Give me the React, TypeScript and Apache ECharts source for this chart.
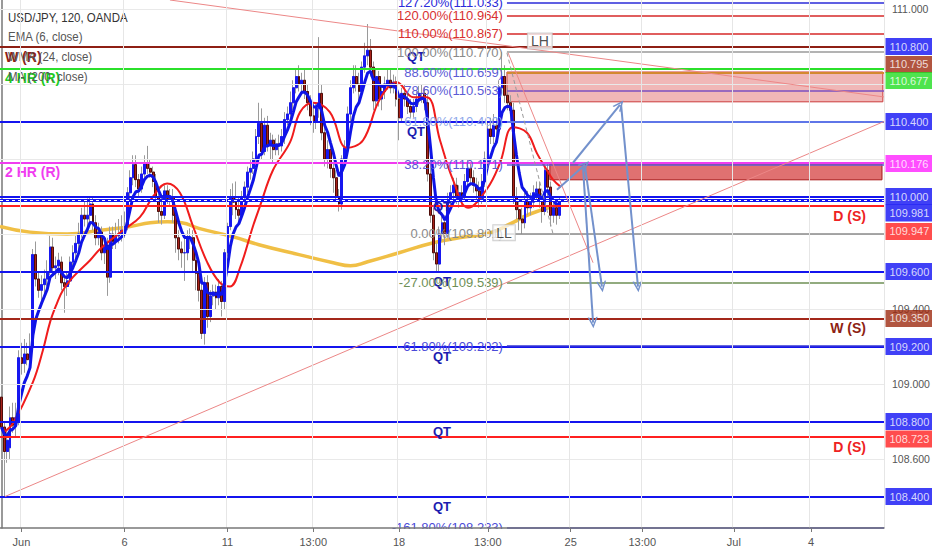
import React, { useEffect, useRef } from 'react';
import * as echarts from 'echarts';

// ---------------- data ----------------
// 2-hour candles: [open, close, low, high]
const candles: [number, number, number, number][] = [
  [108.93,108.77,108.72,108.98],[108.77,108.64,108.40,108.80],[108.64,108.70,108.58,108.76],[108.66,108.82,108.60,108.88],
  [108.82,108.78,108.74,108.90],[108.78,108.82,108.72,108.90],[108.80,109.14,108.78,109.18],[109.14,109.11,109.05,109.22],
  [109.11,109.16,109.06,109.24],[109.16,109.13,109.10,109.22],[109.14,109.20,109.10,109.27],[109.20,109.69,109.18,109.72],
  [109.69,109.56,109.52,109.76],[109.56,109.50,109.46,109.60],[109.50,109.53,109.44,109.58],[109.53,109.56,109.48,109.61],
  [109.56,109.60,109.52,109.66],[109.60,109.73,109.58,109.79],[109.73,109.62,109.58,109.78],[109.62,109.63,109.56,109.68],
  [109.63,109.66,109.58,109.70],[109.65,109.54,109.50,109.68],[109.54,109.52,109.38,109.58],[109.52,109.55,109.47,109.60],
  [109.55,109.65,109.53,109.68],[109.65,109.70,109.62,109.74],[109.70,109.75,109.66,109.79],[109.75,109.80,109.72,109.86],
  [109.80,109.90,109.78,109.94],[109.90,109.88,109.84,109.98],[109.88,109.90,109.84,109.99],[109.90,109.96,109.86,110.00],
  [109.96,109.85,109.82,110.00],[109.86,109.78,109.74,109.90],[109.78,109.81,109.74,109.86],[109.81,109.70,109.66,109.84],
  [109.70,109.74,109.64,109.79],[109.74,109.57,109.47,109.78],[109.57,109.80,109.54,109.84],[109.80,109.76,109.72,109.84],
  [109.76,109.79,109.72,109.86],[109.79,109.80,109.75,109.88],[109.80,109.82,109.76,109.90],[109.82,109.84,109.78,109.92],
  [109.84,110.02,109.82,110.05],[110.02,110.10,109.98,110.14],[110.10,110.17,110.06,110.22],[110.17,110.09,110.05,110.22],
  [110.09,110.04,110.00,110.12],[110.04,110.12,110.02,110.16],[110.12,110.18,110.10,110.22],[110.18,110.15,110.12,110.27],
  [110.15,110.13,110.10,110.20],[110.13,110.08,110.05,110.16],[110.08,110.00,109.98,110.12],[110.00,109.92,109.86,110.04],
  [109.92,109.90,109.85,109.98],[109.90,110.03,109.88,110.06],[110.03,109.99,109.96,110.06],[109.99,110.00,109.95,110.04],
  [110.00,109.90,109.86,110.04],[109.90,109.78,109.70,109.94],[109.78,109.72,109.66,109.82],[109.72,109.70,109.62,109.76],
  [109.70,109.70,109.55,109.78],[109.70,109.78,109.66,109.82],[109.78,109.78,109.72,109.83],[109.78,109.66,109.60,109.82],
  [109.66,109.59,109.50,109.70],[109.59,109.50,109.44,109.62],[109.50,109.27,109.24,109.54],[109.27,109.54,109.21,109.57],
  [109.54,109.36,109.30,109.58],[109.36,109.47,109.33,109.50],[109.47,109.49,109.42,109.53],[109.49,109.46,109.40,109.53],
  [109.46,109.52,109.42,109.56],[109.52,109.44,109.36,109.55],[109.44,109.70,109.40,109.72],[109.70,109.84,109.68,109.86],
  [109.84,110.00,109.82,110.04],[110.00,109.97,109.90,110.07],[109.97,109.93,109.88,110.08],[109.93,109.90,109.86,110.00],
  [109.90,110.00,109.88,110.03],[110.00,110.05,109.97,110.08],[110.05,110.13,110.02,110.16],[110.13,110.15,110.09,110.20],
  [110.15,110.20,110.12,110.24],[110.20,110.32,110.18,110.36],[110.32,110.39,110.28,110.50],[110.39,110.24,110.20,110.47],
  [110.24,110.38,110.22,110.42],[110.38,110.27,110.24,110.43],[110.27,110.30,110.20,110.34],[110.30,110.25,110.18,110.33],
  [110.25,110.28,110.22,110.31],[110.28,110.27,110.22,110.33],[110.27,110.32,110.24,110.36],[110.32,110.41,110.28,110.45],
  [110.41,110.44,110.38,110.48],[110.44,110.50,110.40,110.56],[110.50,110.58,110.46,110.62],[110.58,110.64,110.55,110.68],
  [110.64,110.60,110.56,110.70],[110.60,110.62,110.55,110.66],[110.62,110.56,110.52,110.68],[110.56,110.50,110.46,110.60],
  [110.50,110.43,110.38,110.54],[110.43,110.40,110.34,110.48],[110.40,110.47,110.36,110.50],[110.47,110.55,110.42,110.85],
  [110.55,110.34,110.30,110.60],[110.34,110.20,110.16,110.38],[110.20,110.25,110.15,110.30],[110.25,110.15,110.10,110.28],
  [110.15,110.10,110.02,110.18],[110.10,110.00,109.98,110.14],[110.00,109.96,109.92,110.04],[109.96,110.20,109.93,110.22],
  [110.20,110.26,110.16,110.30],[110.26,110.44,110.22,110.48],[110.44,110.58,110.40,110.62],[110.58,110.64,110.55,110.70],
  [110.64,110.60,110.56,110.70],[110.60,110.56,110.50,110.66],[110.56,110.69,110.54,110.72],[110.69,110.75,110.66,110.82],
  [110.75,110.78,110.70,110.92],[110.78,110.69,110.64,110.84],[110.69,110.51,110.46,110.72],[110.51,110.64,110.48,110.68],
  [110.64,110.52,110.48,110.67],[110.52,110.56,110.46,110.60],[110.56,110.60,110.52,110.64],[110.60,110.62,110.57,110.68],
  [110.62,110.58,110.55,110.68],[110.58,110.61,110.55,110.65],[110.61,110.52,110.48,110.64],[110.52,110.42,110.30,110.55],
  [110.42,110.55,110.40,110.58],[110.55,110.52,110.48,110.60],[110.52,110.48,110.44,110.56],[110.48,110.45,110.42,110.52],
  [110.45,110.48,110.42,110.52],[110.48,110.52,110.45,110.56],[110.52,110.55,110.49,110.59],[110.55,110.55,110.50,110.60],
  [110.55,110.50,110.46,110.58],[110.50,110.12,110.08,110.54],[110.12,109.90,109.86,110.16],[109.90,109.70,109.66,109.94],
  [109.70,109.64,109.60,109.75],[109.64,109.80,109.60,109.84],[109.80,109.86,109.76,109.90],[109.86,109.80,109.74,109.90],
  [109.80,109.98,109.78,110.02],[109.98,110.02,109.94,110.06],[110.02,110.06,109.98,110.10],[110.06,110.00,109.96,110.10],
  [110.00,110.02,109.94,110.06],[110.02,110.00,109.95,110.06],[110.00,110.08,109.98,110.12],[110.08,110.15,110.05,110.20],
  [110.15,110.10,110.06,110.18],[110.10,110.06,110.02,110.14],[110.06,110.03,109.98,110.10],[110.03,109.99,109.94,110.08],
  [109.99,110.08,109.96,110.12],[110.08,110.20,110.05,110.24],[110.20,110.36,110.18,110.40],[110.36,110.32,110.28,110.42],
  [110.32,110.38,110.28,110.44],[110.38,110.36,110.30,110.42],[110.36,110.58,110.34,110.62],[110.58,110.64,110.55,110.77],
  [110.64,110.54,110.50,110.70],[110.54,110.50,110.46,110.58],[110.50,110.46,110.40,110.54],[110.46,110.00,109.96,110.50],
  [110.00,109.93,109.88,110.05],[109.93,109.88,109.82,109.98],[109.88,109.86,109.80,109.94],[109.86,109.98,109.83,110.02],
  [109.98,109.94,109.90,110.03],[109.94,109.97,109.90,110.02],[109.97,110.02,109.94,110.06],[110.02,110.04,109.98,110.08],
  [110.04,109.98,109.94,110.08],[109.98,109.92,109.86,110.02],[109.92,110.14,109.90,110.17],[110.14,110.05,110.00,110.18],
  [110.05,109.90,109.84,110.08],[109.90,109.94,109.86,110.00],[109.94,109.90,109.85,109.98],[109.90,109.98,109.88,110.00],
];

// MA(200) and WMA(24) traces: [bar, price]
const ma200Line: [number, number][] = [
  [-0.5,109.84],[10,109.81],[23,109.80],[34.5,109.82],[45,109.84],[52,109.86],[58,109.865],[63,109.86],
  [69,109.83],[81,109.785],[90,109.743],[104,109.69],[116,109.647],[122,109.631],[128,109.652],[139,109.70],
  [151,109.753],[160,109.78],[171,109.807],[178,109.855],[185,109.908],[195,109.956],
];
const wma24Line: [number, number][] = [
  [0.5,108.74],[4,108.79],[11,109.01],[14.5,109.18],[17,109.33],[19.4,109.43],[21.5,109.50],[25,109.57],
  [31,109.66],[34.5,109.72],[42.5,109.82],[48.4,109.89],[53,110.00],[57.9,110.07],[62.4,110.02],[67,109.84],
  [71.9,109.65],[76.4,109.54],[79.9,109.52],[83.4,109.62],[87.9,109.84],[90.4,109.95],[94.9,110.14],[100.9,110.29],
  [104.4,110.45],[108.9,110.50],[114.8,110.45],[120.8,110.26],[126.4,110.30],[132.3,110.52],[138.3,110.61],[143.9,110.53],
  [148.7,110.53],[153.3,110.30],[157.8,110.09],[163.1,109.94],[169.7,110.04],[174.3,110.18],[178.8,110.37],[183.7,110.34],
  [187.2,110.23],[190.7,110.14],[192.8,110.09],[195.6,110.05],
];

const SLOTS = 309;
const Y_MIN = 108.232;
const Y_MAX = 111.048;

const yTicks = [108.4, 108.6, 108.8, 109.0, 109.2, 109.4, 109.6, 109.8, 110.0, 110.2, 110.4, 110.6, 110.8, 111.0];
// the scale labels that are not hidden behind a price tag
const yLabelValues = [108.6, 109.0, 109.4, 111.0];
const xTickIndex = [7, 43, 79, 109, 139, 170, 199, 224, 256, 283];
const xTickText = ['Jun', '6', '11', '13:00', '18', '13:00', '25', '13:00', 'Jul', '4'];

// horizontal levels
const qtLevels = [110.8, 110.4, 110.0, 109.6, 109.2, 108.8, 108.4];
const weeklyResistance = 110.795;
const fourHourResistance = 110.677;
const twoHourResistance = 110.176;
const dottedLevel = 109.981;
const dailySupports = [109.947, 108.723];
const weeklySupport = 109.35;

// fibonacci
const fibPct = ['127.20%', '120.00%', '110.00%', '100.00%', '88.60%', '78.60%', '61.80%', '38.20%', '0.00%', '-27.00%', '-61.80%', '-161.80%'];
const fibValues = [111.033, 110.964, 110.867, 110.770, 110.659, 110.563, 110.400, 110.171, 109.801, 109.539, 109.202, 108.233];
const fibStartBar = 176.7;

// drawings: [bar1, price1, bar2, price2]
const trendLines: [number, number, number, number][] = [
  [58.9, 111.048, 308.5, 110.531],
  [1.25, 108.40, 308.5, 110.40],
  [177.1, 110.766, 206.8, 109.647],
];
const fibConnector: [number, number, number, number] = [176.7, 110.766, 192.8, 109.801];
const projectionArrows: [number, number, number, number][] = [
  [194.2, 110.036, 204.0, 110.169],
  [204.0, 110.158, 209.9, 109.519],
  [203.3, 110.153, 206.8, 109.327],
  [199.8, 110.18, 216.2, 110.489],
  [216.6, 110.489, 222.5, 109.519],
];
const zones: [number, number, number, number][] = [
  [176.7, 110.664, 308.1, 110.505],
  [191.7, 110.174, 307.8, 110.089],
];
const swingText = ['LH', 'LL'];
const swingPoints: [number, number][] = [[188.2, 110.83], [175.7, 109.807]];

const tagValues = [110.800, 110.795, 110.677, 110.400, 110.176, 110.000, 109.981, 109.947, 109.600, 109.350, 109.200, 108.800, 108.723, 108.400];

// ---------------- styles ----------------
const FONT = 'Liberation Sans, Arial, sans-serif';
const BLUE = '#1414ee';
const TAG_BLUE = '#1010f4';
const MAROON = '#8e1f14';
const TAG_MAROON = '#9e2a10';
const GREEN = '#2be02b';
const MAGENTA = '#f03cf0';
const RED = '#ff2020';
const tagColors = [TAG_BLUE, TAG_MAROON, '#22dd22', TAG_BLUE, '#ff22ff', TAG_BLUE, TAG_BLUE, RED, TAG_BLUE, TAG_MAROON, TAG_BLUE, TAG_BLUE, RED, TAG_BLUE];
const tagShift = [0, 17, 11, 0, 0, 0, 13, 25, 0, 0, 0, 0, 3, 0];
const fibLineColors = ['#2b2bd9', '#d62828', '#d62828', '#9a9a9a', '#d4892f', '#7b4fc0', '#7897e6', '#5b5bd6', '#8a8a8a', '#6e8f55', '#3535d5', '#3535d5'];
const fibTextColors = ['#2b2bd9', '#d83030', '#d83030', '#8a8a8a', '#5b5bd6', '#5b5bd6', '#8fa8ea', '#5b5bd6', '#8a8a8a', '#6e8f55', '#4a4ad8', '#4a4ad8'];
const CHEVRON = 'path://M0,10 L5,0 L10,10 L8.4,10 L5,3.2 L1.6,10 Z';
const HIDDEN = 'rgba(0,0,0,0)';

function boldLabel(text: string, color: string, position: string, distance: any, extra: any = {}) {
  return {
    show: true, position, formatter: text, color, fontWeight: 'bold', fontSize: 14,
    fontFamily: FONT, distance, ...extra,
  };
}

function legendText(text: string, y: number, fill: string) {
  return {
    type: 'text', x: 8, y, z: 10, scaleX: 0.85,
    style: { text, fill, fontSize: 13.5, fontFamily: FONT },
  };
}

function buildOption(): any {
  const isTick = (i: number) => xTickIndex.includes(i);
  const categories = Array.from({ length: SLOTS }, (_, i) => {
    const k = xTickIndex.indexOf(i);
    return k >= 0 ? xTickText[k] : '';
  });
  const closes = candles.map((c) => c[1]);
  const alpha = 2 / 7;
  const ema6: number[] = [];
  closes.forEach((c, i) => ema6.push(i === 0 ? c : alpha * c + (1 - alpha) * ema6[i - 1]));
  const bodies = candles.map(([o, c]) => [o, c, Math.min(o, c), Math.max(o, c)]);

  const qtLabel = (shiftLeft: boolean) => ({
    show: true, position: 'insideMiddleBottom', formatter: 'QT', color: '#1c1cb0',
    fontWeight: 'bold', fontSize: 13, fontFamily: FONT, distance: 3,
    padding: shiftLeft ? [0, 52, 0, 0] : [0, 0, 0, 0],
  });

  const levelData: any[] = [];
  qtLevels.forEach((v) => {
    levelData.push({ yAxis: v, lineStyle: { color: BLUE, width: 2, type: 'solid' }, label: qtLabel(v >= 110.4) });
  });
  levelData.push({ yAxis: weeklyResistance, lineStyle: { color: MAROON, width: 2, type: 'solid' },
    label: boldLabel('W (R)', MAROON, 'insideStartBottom', [5, 3]) });
  levelData.push({ yAxis: fourHourResistance, lineStyle: { color: GREEN, width: 2, type: 'solid' },
    label: boldLabel('4 HR (R)', '#22cc22', 'insideStartBottom', [5, 2]) });
  levelData.push({ yAxis: twoHourResistance, lineStyle: { color: MAGENTA, width: 2, type: 'solid' },
    label: boldLabel('2 HR (R)', MAGENTA, 'insideStartBottom', [5, 2]) });
  levelData.push({ yAxis: dottedLevel, lineStyle: { color: BLUE, width: 3, type: 'solid' }, label: { show: false } });
  levelData.push({ yAxis: dottedLevel, lineStyle: { color: '#ffffff', width: 1, type: [3, 3] }, label: { show: false } });
  dailySupports.forEach((v) => {
    levelData.push({ yAxis: v, lineStyle: { color: RED, width: 2, type: 'solid' },
      label: boldLabel('D (S)', '#ee2222', 'insideEndBottom', [18, 3]) });
  });
  levelData.push({ yAxis: weeklySupport, lineStyle: { color: '#a3281a', width: 2, type: 'solid' },
    label: boldLabel('W (S)', MAROON, 'insideEndBottom', [18, 3]) });

  const fibData = fibValues.map((v, i) => [
    {
      coord: [fibStartBar, v],
      lineStyle: { color: fibLineColors[i], width: i === 4 ? 2 : 1.5, type: 'solid' },
      label: {
        show: true, position: 'start', distance: 4,
        formatter: `${fibPct[i]}(${v.toFixed(3)})`, color: fibTextColors[i], fontSize: 13, fontFamily: FONT,
      },
    },
    { coord: [SLOTS - 0.5, v] },
  ]);

  const trendData: any[] = trendLines.map(([a, b, c, d]) => [
    { coord: [a, b], lineStyle: { color: '#ec8787', width: 1, type: 'solid' } },
    { coord: [c, d] },
  ]);
  trendData.push([
    { coord: [fibConnector[0], fibConnector[1]], lineStyle: { color: '#9a9a9a', width: 1, type: [4, 3] } },
    { coord: [fibConnector[2], fibConnector[3]] },
  ]);

  const arrowData = projectionArrows.map(([a, b, c, d]) => [{ coord: [a, b] }, { coord: [c, d] }]);

  const zoneStyles = [
    { color: 'rgba(226,112,112,0.5)', borderColor: '#cc3b3b', borderWidth: 1 },
    { color: 'rgba(214,66,66,0.75)', borderColor: '#a81818', borderWidth: 1 },
  ];
  const zoneData = zones.map(([a, b, c, d], i) => [
    { coord: [a, b], itemStyle: zoneStyles[i] },
    { coord: [c, d] },
  ]);

  return {
    animation: false,
    backgroundColor: '#ffffff',
    textStyle: { fontFamily: FONT },
    grid: { left: 0, right: 48, top: 0, bottom: 22, outerBoundsMode: 'none', containLabel: false },
    xAxis: [
      {
        type: 'category', data: categories, boundaryGap: true, gridIndex: 0, z: 12,
        axisLine: { show: true, lineStyle: { color: '#777', width: 1.5 } },
        axisTick: { show: true, alignWithLabel: true, interval: (i: number) => isTick(i), length: 4, lineStyle: { color: '#777' } },
        axisLabel: { interval: (i: number) => isTick(i), color: '#555', fontSize: 11, fontFamily: FONT, margin: 8 },
        splitLine: { show: true, interval: (i: number) => isTick(i), lineStyle: { color: '#e6e6e6', width: 1 } },
      },
      { type: 'value', min: -0.5, max: SLOTS - 0.5, show: false, gridIndex: 0 },
    ],
    yAxis: {
      type: 'value', position: 'right', min: Y_MIN, max: Y_MAX, scale: true,
      axisLine: { show: true, lineStyle: { color: '#777', width: 1.5 } },
      axisTick: { show: true, customValues: yTicks, length: 4, lineStyle: { color: '#777' } },
      axisLabel: { customValues: yLabelValues, formatter: (v: number) => v.toFixed(3), color: '#555', fontSize: 10.5, fontFamily: FONT, margin: 8 },
      splitLine: { show: false },
    },
    graphic: [
      legendText('USD/JPY, 120, OANDA', 11, '#333'),
      legendText('EMA (6, close)', 30, '#555'),
      legendText('WMA (24, close)', 50, '#555'),
      legendText('MA (200, close)', 70, '#555'),
      // masks the lower half of the cut-off -161.80% label, as the time scale does in the picture
      { type: 'rect', z: 9, shape: { x: 380, y: 529, width: 130, height: 21 }, style: { fill: '#ffffff' }, silent: true },
    ],
    series: [
      {
        name: 'grid', type: 'line', xAxisIndex: 1, yAxisIndex: 0, data: [], z: 1, silent: true,
        markLine: {
          silent: true, symbol: 'none', animation: false,
          lineStyle: { color: '#e9e9e9', width: 1, type: 'solid' }, label: { show: false },
          data: yTicks.map((v) => ({ yAxis: v })),
        },
      },
      {
        name: 'MA 200', type: 'line', xAxisIndex: 1, yAxisIndex: 0, data: ma200Line, smooth: 0.5,
        showSymbol: false, symbol: 'none', z: 2, lineStyle: { color: '#f0bf45', width: 3.5 },
      },
      {
        name: 'wicks', type: 'candlestick', xAxisIndex: 0, yAxisIndex: 0, data: candles, barWidth: 2.4, z: 3,
        itemStyle: { color: 'transparent', color0: 'transparent', borderColor: '#9a9a9a', borderColor0: '#9a9a9a', borderWidth: 1 },
      },
      {
        name: 'bodies', type: 'candlestick', xAxisIndex: 0, yAxisIndex: 0, data: bodies, barWidth: 2.4, z: 3,
        itemStyle: { color: '#1717f0', color0: '#a8221a', borderColor: '#1717f0', borderColor0: '#4e0c08', borderWidth: 1 },
      },
      {
        name: 'WMA 24', type: 'line', xAxisIndex: 1, yAxisIndex: 0, data: wma24Line, smooth: 0.4,
        showSymbol: false, symbol: 'none', z: 4, lineStyle: { color: '#f01c1c', width: 2 },
      },
      {
        name: 'EMA 6', type: 'line', xAxisIndex: 0, yAxisIndex: 0, data: ema6,
        showSymbol: false, symbol: 'none', z: 4, lineStyle: { color: '#0f14e6', width: 3 },
      },
      {
        name: 'zones', type: 'line', xAxisIndex: 1, yAxisIndex: 0, data: [], z: 4, silent: true,
        markArea: { silent: true, data: zoneData },
      },
      {
        name: 'levels', type: 'line', xAxisIndex: 1, yAxisIndex: 0, data: [], z: 5, silent: true,
        markLine: { silent: true, symbol: 'none', animation: false, data: levelData },
      },
      {
        name: 'fib', type: 'line', xAxisIndex: 1, yAxisIndex: 0, data: [], z: 5, silent: true,
        markLine: { silent: true, symbol: 'none', animation: false, data: fibData },
      },
      {
        name: 'trend', type: 'line', xAxisIndex: 1, yAxisIndex: 0, data: [], z: 6, silent: true,
        markLine: { silent: true, symbol: 'none', animation: false, label: { show: false }, data: trendData },
      },
      {
        name: 'arrows', type: 'line', xAxisIndex: 1, yAxisIndex: 0, data: [], z: 6, silent: true,
        markLine: {
          silent: true, symbol: ['none', CHEVRON], symbolSize: [10, 11], animation: false,
          lineStyle: { color: '#7391cc', width: 2, type: 'solid' }, label: { show: false },
          itemStyle: { color: '#7391cc' },
          data: arrowData,
        },
      },
      {
        name: 'swings', type: 'scatter', xAxisIndex: 1, yAxisIndex: 0, z: 7, silent: true, symbolSize: 1,
        itemStyle: { color: HIDDEN },
        data: swingPoints.map((p, i) => ({ value: p, name: swingText[i] })),
        label: {
          show: true, position: 'inside', formatter: '{b}', color: '#222', fontSize: 14, fontFamily: FONT,
          backgroundColor: 'rgba(255,255,255,0.85)', borderColor: '#c4c4c4', borderWidth: 1, padding: [1, 3, 0, 3],
        },
      },
      {
        name: 'tags', type: 'scatter', xAxisIndex: 1, yAxisIndex: 0, z: 8, silent: true, symbolSize: 1, clip: false,
        itemStyle: { color: HIDDEN },
        data: tagValues.map((v, i) => ({
          value: [SLOTS - 0.5, v],
          label: { backgroundColor: tagColors[i], offset: [0, tagShift[i]] },
        })),
        label: {
          show: true, position: 'right', distance: 1, color: '#ffffff', fontSize: 11, fontFamily: FONT,
          padding: [3, 4, 2, 4], lineHeight: 12,
          formatter: (p: any) => Number(p.value[1]).toFixed(3),
        },
      },
    ],
  };
}

export default function App() {
  const ref = useRef<HTMLDivElement>(null);
  useEffect(() => {
    document.body.style.margin = '0';
    const chart = echarts.init(ref.current as HTMLDivElement, null, { renderer: 'svg' });
    chart.setOption(buildOption());
    return () => chart.dispose();
  }, []);
  return <div ref={ref} style={{ width: 932, height: 550 }} />;
}
